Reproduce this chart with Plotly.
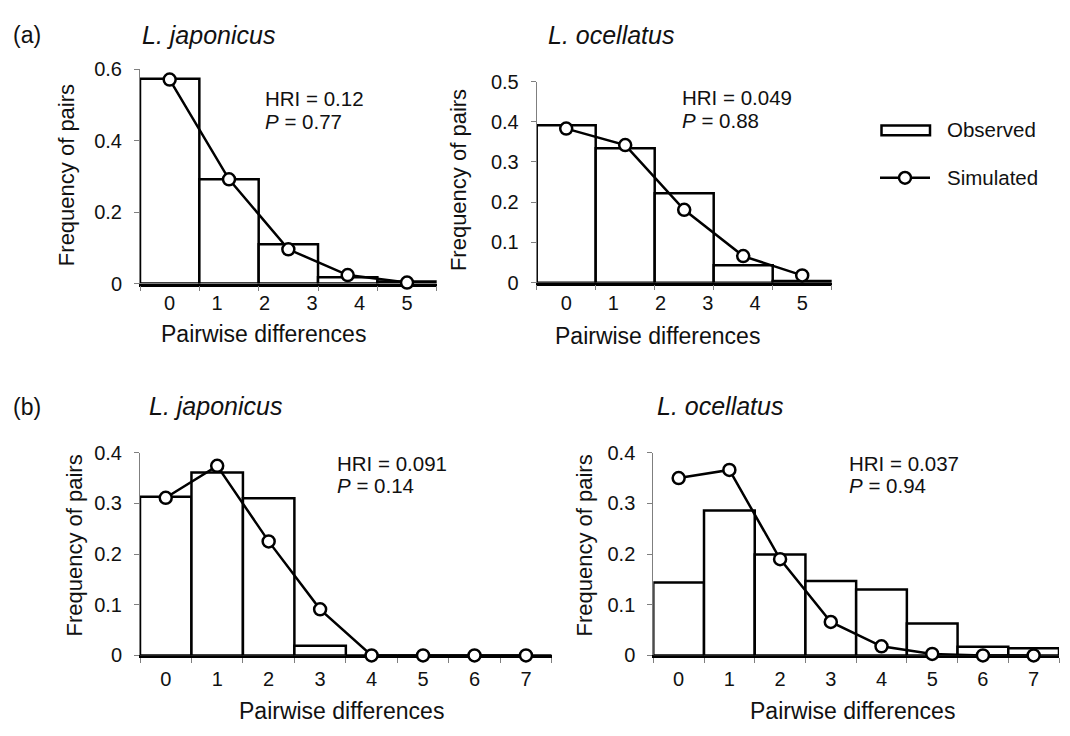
import plotly.graph_objects as go

# ---------------- data ----------------
a_labels = ["0", "1", "2", "3", "4", "5"]
b_labels = ["0", "1", "2", "3", "4", "5", "6", "7"]

a_jap_observed = [0.573, 0.292, 0.110, 0.018, 0.006]
a_jap_simulated = [0.571, 0.292, 0.096, 0.024, 0.003]
a_oce_observed = [0.391, 0.334, 0.222, 0.043, 0.004]
a_oce_simulated = [0.383, 0.342, 0.181, 0.066, 0.018]

b_jap_observed = [0.313, 0.361, 0.310, 0.019, 0.0, 0.0, 0.0, 0.0]
b_jap_simulated = [0.311, 0.374, 0.225, 0.091, 0.0, 0.0, 0.0, 0.0]
b_oce_observed = [0.144, 0.286, 0.199, 0.147, 0.130, 0.063, 0.017, 0.014]
b_oce_simulated = [0.350, 0.366, 0.190, 0.066, 0.018, 0.003, 0.0, 0.0]

a_jap_yticks = [0, 0.2, 0.4, 0.6]
a_oce_yticks = [0, 0.1, 0.2, 0.3, 0.4, 0.5]
b_yticks = [0, 0.1, 0.2, 0.3, 0.4]

stats = [("HRI = 0.12", "0.77"), ("HRI = 0.049", "0.88"),
         ("HRI = 0.091", "0.14"), ("HRI = 0.037", "0.94")]
species = ["L. japonicus", "L. ocellatus", "L. japonicus", "L. ocellatus"]

# ---------------- layout (pixels) ----------------
W, H = 1070, 736
FONT = "Liberation Sans, Arial, sans-serif"
TXT = "#111111"


def fx(p):
    return p / W


def fy(p):
    return 1 - p / H


panels = [
    dict(obs=a_jap_observed, sim=a_jap_simulated, labels=a_labels, yticks=a_jap_yticks,
         px=(140, 436.7), py=(60, 281), title_xy=(140, 25), stat_xy=(263, 90),
         xt=(263, 333), yt=(66.7, 169.5), lstand=0),
    dict(obs=a_oce_observed, sim=a_oce_simulated, labels=a_labels, yticks=a_oce_yticks,
         px=(536.7, 831.7), py=(72.7, 280), title_xy=(546, 25), stat_xy=(680, 89),
         xt=(657.5, 335), yt=(458.3, 174), lstand=1),
    dict(obs=b_jap_observed, sim=b_jap_simulated, labels=b_labels, yticks=b_yticks,
         px=(140, 551.7), py=(455.3, 664.3), title_xy=(147, 407), stat_xy=(335, 466),
         xt=(341.5, 722), yt=(75, 551), lstand=4),
    dict(obs=b_oce_observed, sim=b_oce_simulated, labels=b_labels, yticks=b_yticks,
         px=(653.3, 1059), py=(455.3, 664.3), title_xy=(655, 407), stat_xy=(847, 466),
         xt=(852, 722), yt=(585, 551), lstand=4),
]

fig = go.Figure()
annotations = []
shapes = []

for i, p in enumerate(panels):
    n = len(p["obs"])
    xs = list(range(n))
    sfx = "" if i == 0 else str(i + 1)
    xa, ya = "x" + sfx, "y" + sfx
    fig.add_trace(go.Bar(
        x=xs, y=p["obs"], width=1, xaxis=xa, yaxis=ya, name="Observed",
        marker=dict(color="white", line=dict(color="black", width=2.5)),
        showlegend=False))
    fig.add_trace(go.Scatter(
        x=xs, y=p["sim"], xaxis=xa, yaxis=ya, name="Simulated", mode="lines+markers",
        line=dict(color="black", width=2.5),
        marker=dict(symbol="circle", size=12, color="white",
                    line=dict(color="black", width=2.5)),
        cliponaxis=False, showlegend=False))

    nl = len(p["labels"])
    label_pos = [k * (n - 1) / (nl - 1) for k in range(nl)]
    bounds = [k - 0.5 for k in range(n + 1)]
    top = max(p["yticks"])

    fig.update_layout(**{
        "xaxis" + sfx: dict(
            domain=[fx(p["px"][0]), fx(p["px"][1])], range=[-0.5, n - 0.5],
            anchor=ya, showgrid=False, zeroline=False, fixedrange=True,
            showline=True, linecolor="black", linewidth=2.5, layer="below traces",
            tickmode="array", tickvals=label_pos, ticktext=p["labels"], ticks="",
            ticklabelstandoff=p["lstand"],
            tickfont=dict(family=FONT, size=20, color=TXT),
            minor=dict(tickmode="array", tickvals=bounds, ticks="outside",
                       ticklen=5, tickwidth=1, tickcolor="#7f7f7f", showgrid=False)),
        "yaxis" + sfx: dict(
            domain=[fy(p["py"][1]), fy(p["py"][0])], range=[0, top],
            anchor=xa, showgrid=False, zeroline=False, fixedrange=True,
            showline=True, linecolor="#7f7f7f", linewidth=1,
            tickmode="array", tickvals=p["yticks"],
            ticks="outside", ticklen=5, tickwidth=1, tickcolor="#7f7f7f",
            ticklabelstandoff=8,
            tickfont=dict(family=FONT, size=20, color=TXT)),
    })

    # panel title (species)
    annotations.append(dict(
        text="<i>" + species[i] + "</i>", xref="paper", yref="paper",
        x=fx(p["title_xy"][0]), y=fy(p["title_xy"][1]), xanchor="left", yanchor="middle",
        showarrow=False, font=dict(family=FONT, size=25, color=TXT)))
    # statistics
    hri, pv = stats[i]
    annotations.append(dict(
        text=hri, xref="paper", yref="paper",
        x=fx(p["stat_xy"][0]), y=fy(p["stat_xy"][1]), xanchor="left", yanchor="middle",
        showarrow=False, font=dict(family=FONT, size=20.5, color=TXT)))
    annotations.append(dict(
        text="<i>P</i> = " + pv, xref="paper", yref="paper",
        x=fx(p["stat_xy"][0]), y=fy(p["stat_xy"][1] + 23.5), xanchor="left",
        yanchor="middle", showarrow=False, font=dict(family=FONT, size=20.5, color=TXT)))
    # axis titles
    annotations.append(dict(
        text="Pairwise differences", xref="paper", yref="paper",
        x=fx(p["xt"][0]), y=fy(p["xt"][1]), xanchor="center", yanchor="middle",
        showarrow=False, font=dict(family=FONT, size=23, color=TXT)))
    annotations.append(dict(
        text="Frequency of pairs", xref="paper", yref="paper", textangle=-90,
        x=fx(p["yt"][0]), y=fy(p["yt"][1]), xanchor="center", yanchor="middle",
        showarrow=False, font=dict(family=FONT, size=22, color=TXT)))

# panel letters
for letter, yy in (("(a)", 25), ("(b)", 408)):
    annotations.append(dict(
        text=letter, xref="paper", yref="paper", x=fx(11), y=fy(yy),
        xanchor="left", yanchor="middle", showarrow=False,
        font=dict(family=FONT, size=23, color=TXT)))

# legend (drawn manually)
shapes.append(dict(type="rect", xref="paper", yref="paper",
                   x0=fx(881.5), x1=fx(930), y0=fy(128), y1=fy(118),
                   line=dict(color="black", width=2.5), fillcolor="white"))
shapes.append(dict(type="line", xref="paper", yref="paper",
                   x0=fx(880), x1=fx(930), y0=fy(172), y1=fy(172),
                   line=dict(color="black", width=2.5)))
shapes.append(dict(type="circle", xref="paper", yref="paper",
                   x0=fx(899), x1=fx(911), y0=fy(178), y1=fy(166),
                   line=dict(color="black", width=2.5), fillcolor="white"))
annotations.append(dict(text="Observed", xref="paper", yref="paper", x=fx(945), y=fy(122),
                        xanchor="left", yanchor="middle", showarrow=False,
                        font=dict(family=FONT, size=20.5, color=TXT)))
annotations.append(dict(text="Simulated", xref="paper", yref="paper", x=fx(945), y=fy(172),
                        xanchor="left", yanchor="middle", showarrow=False,
                        font=dict(family=FONT, size=20.5, color=TXT)))

fig.update_layout(
    width=W, height=H, margin=dict(l=0, r=0, t=0, b=0),
    paper_bgcolor="white", plot_bgcolor="white",
    barmode="overlay", showlegend=False,
    annotations=annotations, shapes=shapes,
    font=dict(family=FONT, color=TXT),
)

fig.write_html("out.html", config={"displayModeBar": False},
               post_script="document.body.style.margin='0';")
